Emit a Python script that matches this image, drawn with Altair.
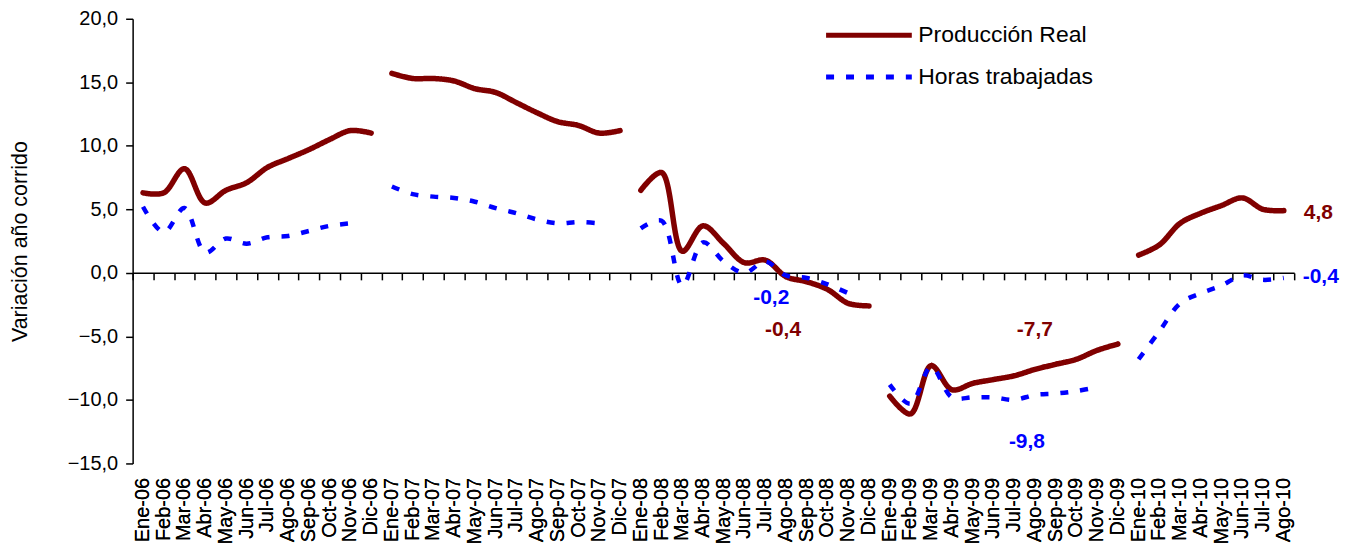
import altair as alt
import pandas as pd

# ---------------- data ----------------
categorias = [
    "Ene-06", "Feb-06", "Mar-06", "Abr-06", "May-06", "Jun-06", "Jul-06", "Ago-06", "Sep-06", "Oct-06", "Nov-06", "Dic-06",
    "Ene-07", "Feb-07", "Mar-07", "Abr-07", "May-07", "Jun-07", "Jul-07", "Ago-07", "Sep-07", "Oct-07", "Nov-07", "Dic-07",
    "Ene-08", "Feb-08", "Mar-08", "Abr-08", "May-08", "Jun-08", "Jul-08", "Ago-08", "Sep-08", "Oct-08", "Nov-08", "Dic-08",
    "Ene-09", "Feb-09", "Mar-09", "Abr-09", "May-09", "Jun-09", "Jul-09", "Ago-09", "Sep-09", "Oct-09", "Nov-09", "Dic-09",
    "Ene-10", "Feb-10", "Mar-10", "Abr-10", "May-10", "Jun-10", "Jul-10", "Ago-10",
]

produccion_real = [
    6.3, 6.3, 8.2, 5.5, 6.5, 7.1, 8.3, 9.0, 9.7, 10.5, 11.2, 11.0,
    15.7, 15.3, 15.3, 15.1, 14.5, 14.2, 13.4, 12.6, 11.9, 11.6, 11.0, 11.2,
    6.5, 7.9, 1.7, 3.7, 2.3, 0.8, 1.0, -0.3, -0.7, -1.3, -2.4, -2.6,
    -9.7, -11.1, -7.3, -9.2, -8.7, -8.4, -8.1, -7.6, -7.2, -6.8, -6.1, -5.6,
    1.4, 2.2, 3.9, 4.7, 5.3, 5.9, 5.0, 4.9,
]

horas_trabajadas = [
    5.2, 3.2, 5.1, 1.6, 2.7, 2.3, 2.8, 2.9, 3.3, 3.7, 3.9, None,
    6.8, 6.2, 6.0, 5.9, 5.6, 5.1, 4.7, 4.2, 3.9, 4.0, 3.9, None,
    3.5, 4.1, -1.0, 2.4, 0.9, 0.0, 0.9, -0.2, -0.4, -0.9, -1.6, None,
    -8.8, -10.3, -7.4, -9.8, -9.8, -9.8, -10.0, -9.6, -9.5, -9.3, -9.0, None,
    -6.8, -4.6, -2.4, -1.6, -1.0, -0.2, -0.55, -0.4,
]

series = ["Producción Real", "Horas trabajadas"]
colores = ["#800000", "#0000FF"]

# annotations: text, category, value, colour
anot_texto = ["-0,2", "-0,4", "-7,7", "-9,8", "4,8", "-0,4"]
anot_mes = ["Jul-08", "Ago-08", "Ago-09", "Ago-09", "Ago-10", "Ago-10"]
anot_valor = [-1.95, -4.5, -4.5, -13.3, 4.7, -0.3]
anot_color = ["#0000FF", "#800000", "#800000", "#0000FF", "#800000", "#0000FF"]
anot_dx = [6, -3, 0, -8, 20, 19]
anot_align = ["center", "center", "center", "center", "left", "left"]

rows = []
for i, mes in enumerate(categorias):
    anio = mes[-2:]
    for serie, vals in zip(series, [produccion_real, horas_trabajadas]):
        v = vals[i]
        if v is not None:
            rows.append({"mes": mes, "anio": anio, "serie": serie, "valor": v, "orden": i})
df = pd.DataFrame(rows)

# ---------------- chart ----------------
W, H = 1165, 446
YMIN, YMAX = -15, 20
FONT = "Liberation Sans"

x_scale = alt.Scale(type="band", domain=categorias, paddingInner=0, paddingOuter=0)
y_scale = alt.Scale(domain=[YMIN, YMAX], nice=False, zero=False)
color_scale = alt.Scale(domain=series, range=colores)
dash_scale = alt.Scale(domain=series, range=[[1, 0], [8, 12]])

legend = alt.Legend(
    orient="none", legendX=725, legendY=3, title=None,
    symbolType="M-4,0H4", symbolSize=462, symbolStrokeWidth=5,
    labelFontSize=23, labelColor="black", labelFont=FONT, labelOffset=36,
    labelLimit=0, rowPadding=16,
)

y_axis = alt.Axis(
    values=list(range(YMIN, YMAX + 1, 5)),
    labelExpr="replace(format(datum.value, '.1f'), '.', ',')",
    labelFontSize=20, labelColor="black", labelPadding=8,
    tickSize=7, tickColor="black", tickWidth=1.5,
    domainColor="black", domainWidth=1.5, grid=False,
    titleFontSize=21.5, titleFontWeight="normal", titleColor="black",
    titlePadding=36,
)
y_enc = alt.Y("valor:Q", scale=y_scale, title="Variación año corrido", axis=y_axis)

x_labels = alt.X(
    "mes:N", scale=x_scale, bandPosition=0.5, title=None,
    axis=alt.Axis(
        orient="bottom", domain=False, ticks=False, tickSize=0,
        labelAngle=-90, labelPadding=14, labelFontSize=20, labelColor="black",
        grid=False,
    ),
)

base = alt.Chart(df)

def line_layer(serie, width, cap):
    return base.transform_filter(alt.datum.serie == serie).mark_line(
        interpolate="catmull-rom", strokeWidth=width, strokeCap=cap
    ).encode(
        x=x_labels,
        y=y_enc,
        color=alt.Color("serie:N", scale=color_scale, legend=legend, sort=series),
        strokeDash=alt.StrokeDash("serie:N", scale=dash_scale, legend=legend, sort=series),
        detail="anio:N",
        order="orden:Q",
    )

red = line_layer("Producción Real", 5.5, "round")
blue = line_layer("Horas trabajadas", 4.5, "butt")

zero_offset = -H * (0 - YMIN) / (YMAX - YMIN)
zero_axis = base.mark_rule(opacity=0).encode(
    x=alt.X(
        "mes:N", scale=x_scale, bandPosition=0.5, title=None,
        axis=alt.Axis(
            orient="bottom", offset=zero_offset, labels=False,
            domain=True, domainColor="black", domainWidth=1.5,
            ticks=True, tickColor="black", tickSize=7, tickWidth=1.5,
            tickBand="extent", grid=False,
        ),
    ),
    y=y_enc,
)

ann_layers = []
for t, m, v, c, dx, al in zip(anot_texto, anot_mes, anot_valor, anot_color, anot_dx, anot_align):
    d = pd.DataFrame({"texto": [t], "mes": [m], "valor": [v]})
    ann_layers.append(
        alt.Chart(d).mark_text(
            font=FONT, fontSize=21, fontWeight="bold", color=c, align=al,
            baseline="middle", dx=dx,
        ).encode(
            x=alt.X("mes:N", scale=x_scale, bandPosition=0.5, axis=None),
            y=y_enc,
            text="texto:N",
        )
    )

chart = alt.layer(red, blue, zero_axis, *ann_layers).resolve_axis(
    x="independent"
).properties(
    width=W, height=H,
    autosize=alt.AutoSizeParams(type="none"),
    padding={"left": 125, "top": 10, "right": 60, "bottom": 80},
).configure(
    font=FONT,
).configure_view(
    stroke=None,
).configure_axis(
    labelFont=FONT, titleFont=FONT,
)

chart.save("out.html", embed_options={"renderer": "svg", "actions": False})
